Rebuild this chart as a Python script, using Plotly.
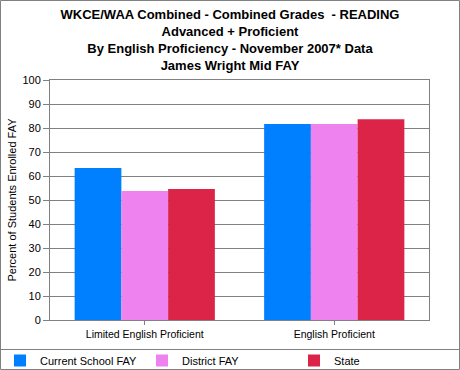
import plotly.graph_objects as go

categories = ["Limited English Proficient", "English Proficient"]
series_names = ["Current School FAY", "District FAY", "State"]
current_school = [63.3, 81.7]
district = [53.8, 81.7]
state = [54.6, 83.6]
colors = ["#0080FF", "#EE82EE", "#DC2449"]
legend_ids = ["legend", "legend2", "legend3"]
legend_x_px = [-10, 142, 294]

fig = go.Figure()
for name, vals, c, lg in zip(series_names, [current_school, district, state], colors, legend_ids):
    fig.add_trace(go.Bar(x=categories, y=vals, name=name, legend=lg,
                         marker=dict(color=c, line=dict(width=0))))

W, H = 460, 370
L, R, T, B = 50, 31, 80, 50
pw, ph = W - L - R, H - T - B

def px(xp):
    return (xp - L) / pw

def py(yp):
    return (H - B - yp) / ph

def legend_cfg(xp):
    return dict(orientation="h", xref="container", yref="container", x=xp / W, y=(H - 346) / H,
                xanchor="left", yanchor="top", font=dict(size=11),
                bgcolor="rgba(0,0,0,0)", itemclick=False, itemdoubleclick=False)

fig.update_layout(
    width=W, height=H,
    margin=dict(l=L, r=R, t=T, b=B, autoexpand=False),
    paper_bgcolor="white", plot_bgcolor="white",
    font=dict(family="Liberation Sans, Arial", size=11, color="black"),
    title=dict(
        text="WKCE/WAA Combined - Combined Grades  - READING<br>Advanced + Proficient<br>By English Proficiency - November 2007* Data<br>James Wright Mid FAY",
        x=0.5, xanchor="center", xref="container", y=0.948, yanchor="top", yref="container",
        font=dict(family="Liberation Sans, Arial", size=13, color="black", weight="bold"),
    ),
    barmode="group", bargap=0.26, bargroupgap=0,
    showlegend=True,
    legend=legend_cfg(legend_x_px[0]),
    legend2=legend_cfg(legend_x_px[1]),
    legend3=legend_cfg(legend_x_px[2]),
    xaxis=dict(showline=True, linecolor="#808080", linewidth=1, mirror=True, ticks="outside",
               ticklen=4, tickcolor="#808080", showgrid=False, tickfont=dict(size=10.5)),
    yaxis=dict(range=[0, 100], dtick=10, showline=True, linecolor="#808080", linewidth=1, mirror=True,
               gridcolor="#808080", gridwidth=1, ticks="outside", ticklen=6, tickcolor="#808080",
               title=dict(text="Percent of Students Enrolled FAY", font=dict(size=11), standoff=3),
               tickfont=dict(size=11), zeroline=False),
    shapes=[
        dict(type="rect", xref="paper", yref="paper", x0=px(0.5), x1=px(W - 0.5), y0=py(0.5), y1=py(H - 0.5),
             line=dict(color="#808080", width=1)),
        dict(type="line", xref="paper", yref="paper", x0=px(0.5), x1=px(W - 0.5), y0=py(349.5), y1=py(349.5),
             line=dict(color="#808080", width=1)),
    ],
)

fig.write_html("out.html", config={"displayModeBar": False},
               post_script="document.body.style.margin='0';document.body.style.overflow='hidden';")
